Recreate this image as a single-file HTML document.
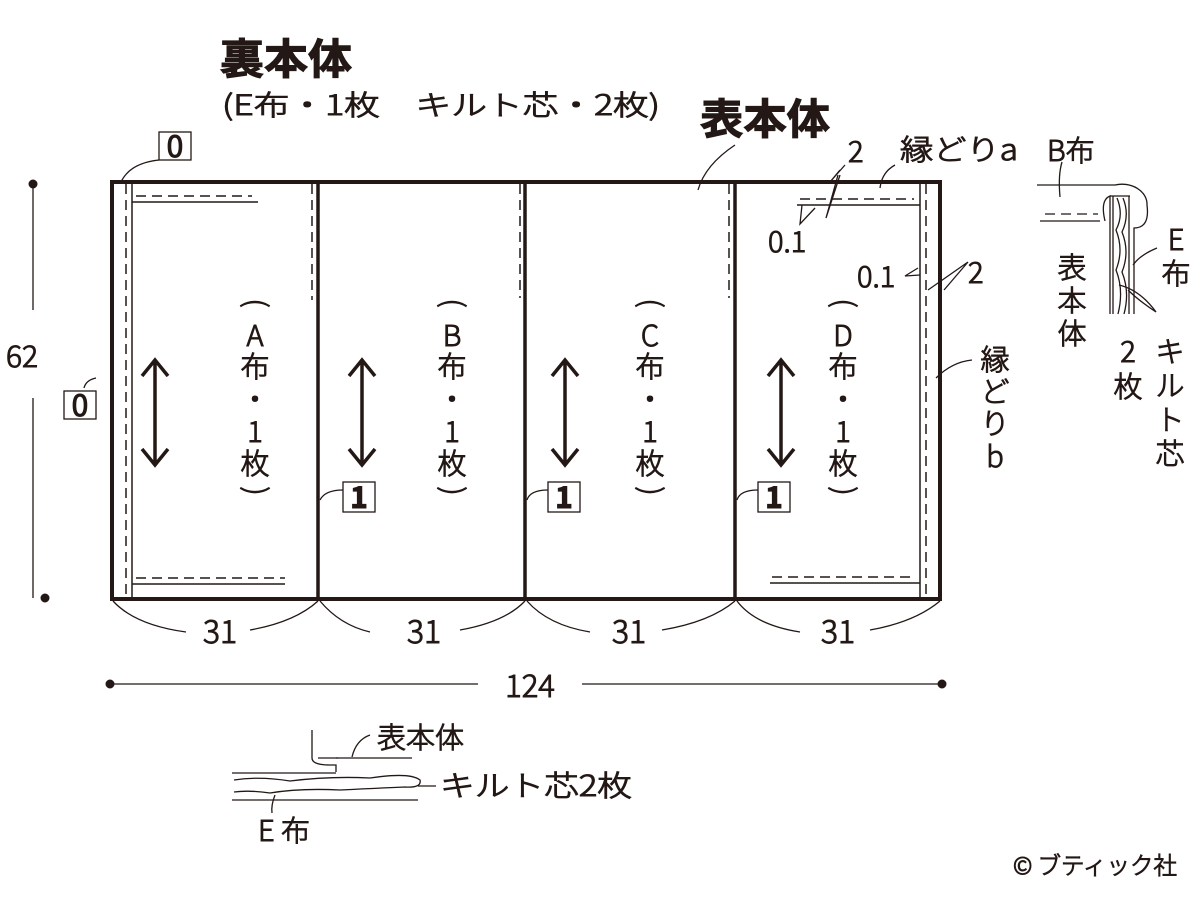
<!DOCTYPE html>
<html><head><meta charset="utf-8"><style>
html,body{margin:0;padding:0;background:#fff;}
svg{display:block;}
text{font-family:"Noto Sans CJK JP","DejaVu Sans",sans-serif;fill:#231815;font-weight:300;}
</style></head><body>
<svg width="1200" height="900" viewBox="0 0 1200 900" xmlns="http://www.w3.org/2000/svg">
<g stroke="#231815" fill="none">
<rect x="112" y="182" width="828" height="417" stroke-width="4"/>
<line x1="318" y1="182" x2="318" y2="599" stroke-width="3.5"/>
<line x1="525" y1="182" x2="525" y2="599" stroke-width="3.5"/>
<line x1="735" y1="182" x2="735" y2="599" stroke-width="3.5"/>
<line x1="126" y1="184" x2="126" y2="598" stroke-width="1.5" stroke-dasharray="10,6"/>
<line x1="132" y1="184" x2="132" y2="598" stroke-width="1.5"/>
<line x1="136" y1="196" x2="252" y2="196" stroke-width="1.5" stroke-dasharray="10,6"/>
<line x1="132" y1="202" x2="258" y2="202" stroke-width="1.5"/>
<line x1="136" y1="578" x2="285" y2="578" stroke-width="1.5" stroke-dasharray="10,6"/>
<line x1="132" y1="584" x2="285" y2="584" stroke-width="1.5"/>
<line x1="926" y1="184" x2="926" y2="598" stroke-width="1.5" stroke-dasharray="10,6"/>
<line x1="920" y1="184" x2="920" y2="598" stroke-width="1.5"/>
<line x1="800" y1="199" x2="914" y2="199" stroke-width="1.5" stroke-dasharray="10,6"/>
<line x1="797" y1="205" x2="920" y2="205" stroke-width="1.5"/>
<line x1="772" y1="577" x2="914" y2="577" stroke-width="1.5" stroke-dasharray="10,6"/>
<line x1="770" y1="583" x2="920" y2="583" stroke-width="1.5"/>
<line x1="312" y1="184" x2="312" y2="300" stroke-width="1.5" stroke-dasharray="10,6"/>
<line x1="520" y1="184" x2="520" y2="298" stroke-width="1.5" stroke-dasharray="10,6"/>
<line x1="729" y1="184" x2="729" y2="298" stroke-width="1.5" stroke-dasharray="10,6"/>
<g stroke-width="3.5">
<path d="M155 360 V465 M142 376 L155 360 L168 376 M142 449 L155 465 L168 449"/>
<path d="M362 360 V465 M349 376 L362 360 L375 376 M349 449 L362 465 L375 449"/>
<path d="M565 360 V465 M552 376 L565 360 L578 376 M552 449 L565 465 L578 449"/>
<path d="M781 360 V465 M768 376 L781 360 L794 376 M768 449 L781 465 L794 449"/>
</g>
<g stroke-width="1.3">
<rect x="159" y="132" width="32" height="28"/>
<rect x="64" y="391" width="32" height="28"/>
<rect x="343" y="482" width="32" height="30"/>
<rect x="548" y="482" width="32" height="30"/>
<rect x="758" y="482" width="32" height="30"/>
<path d="M159 160 Q130 163 121 182"/>
<path d="M96 378 Q86 380 84 388"/>
<path d="M343 490 Q325 490 320 500"/>
<path d="M548 490 Q530 490 527 500"/>
<path d="M758 490 Q740 490 737 500"/>
<path d="M735 145 Q705 165 698 190"/>
<path d="M840 170 L830 182 L845 165 M838 175 L826 218 L840 175"/>
<path d="M802 205 L800 224 L815 208"/>
<path d="M895 165 Q882 172 880 188"/>
<path d="M918 268 L905 276 L920 275"/>
<path d="M968 262 L928 290 M968 262 L944 290"/>
<path d="M972 360 Q952 362 936 378"/>
<line x1="33" y1="184" x2="33" y2="310"/>
<line x1="33" y1="398" x2="33" y2="598"/>
<line x1="110" y1="684" x2="478" y2="684"/>
<line x1="582" y1="684" x2="942" y2="684"/>
<path d="M113 601 Q135 625 186 632"/><path d="M250 630 Q295 622 318 601"/>
<path d="M320 601 Q340 625 370 632"/><path d="M460 630 Q505 622 525 601"/>
<path d="M527 601 Q548 625 590 632"/><path d="M662 630 Q710 622 735 601"/>
<path d="M737 601 Q755 625 800 632"/><path d="M870 630 Q915 622 940 601"/>
<path d="M1037 185 H1115 A 25 20 0 0 1 1147 205 Q1150 228 1134 228 L1134 314"/>
<path d="M1040 221 H1100"/>
<path d="M1045 214 H1098" stroke-dasharray="10,6"/>
<path d="M1105 221 Q1100 200 1110 196 L1110 314"/>
<path d="M1113 196 V314 M1129 196 V314 M1110 196 H1130"/>
<path d="M1117 198 Q1124 215 1116 230 Q1124 250 1116 270 Q1124 290 1118 314"/>
<path d="M1123 198 Q1130 215 1122 232 Q1130 252 1122 272 Q1130 292 1124 314"/>
<path d="M1062 162 Q1058 175 1060 197"/>
<path d="M1157 248 Q1140 255 1133 265"/>
<path d="M1119 285 Q1140 290 1156 312 Q1138 300 1128 290"/>
<path d="M312 730 V758 Q312 765 330 765 H336 V772"/>
<path d="M336 758 H412"/>
<path d="M318 758 H338"/>
<path d="M352 757 Q356 740 370 735"/>
<path d="M232 773 H336"/>
<path d="M232 800 H418"/>
<path d="M234 780 Q260 776 290 781 Q330 776 370 778 Q410 772 420 780 Q422 788 405 787 Q380 788 340 790 Q300 788 270 793 Q250 790 234 792"/>
<path d="M418 786 H436"/>
<path d="M275 795 Q271 805 272 813"/>
</g>
<g fill="#231815">
<circle cx="33" cy="184" r="4"/><circle cx="45" cy="598" r="4"/>
<circle cx="110" cy="684" r="4"/><circle cx="942" cy="684" r="4"/>
</g>
<text x="220" y="74" font-size="42" style="font-weight:bold" textLength="132" lengthAdjust="spacingAndGlyphs">裏本体</text>
<text x="222" y="115" font-size="28" textLength="438" lengthAdjust="spacingAndGlyphs">(E布・1枚　キルト芯・2枚)</text>
<text x="700" y="134" font-size="42" style="font-weight:bold" textLength="130" lengthAdjust="spacingAndGlyphs">表本体</text>
<text x="175" y="157" font-size="30" text-anchor="middle" style="font-weight:400">0</text>
<text x="80" y="416" font-size="30" text-anchor="middle" style="font-weight:400">0</text>
<text x="359" y="508" font-size="30" text-anchor="middle" style="font-weight:bold">1</text>
<text x="564" y="508" font-size="30" text-anchor="middle" style="font-weight:bold">1</text>
<text x="774" y="508" font-size="30" text-anchor="middle" style="font-weight:bold">1</text>
<text x="6" y="367" font-size="30">62</text>
<text x="530" y="697" font-size="31" text-anchor="middle">124</text>
<text x="220" y="643" font-size="32" text-anchor="middle">31</text>
<text x="424" y="643" font-size="32" text-anchor="middle">31</text>
<text x="629" y="643" font-size="32" text-anchor="middle">31</text>
<text x="838" y="643" font-size="32" text-anchor="middle">31</text>
<text x="848" y="162" font-size="29">2</text>
<text x="900" y="160" font-size="29" textLength="118" lengthAdjust="spacingAndGlyphs">縁どりa</text>
<text x="768" y="252" font-size="29">0.1</text>
<text x="857" y="287" font-size="29">0.1</text>
<text x="968" y="283" font-size="29">2</text>
<g font-size="29" text-anchor="middle">
<text x="995" y="370">縁</text><text x="995" y="402">ど</text><text x="995" y="434">り</text><text x="995" y="467">b</text>
</g>
<text x="1047" y="161" font-size="29">B布</text>
<g font-size="29" text-anchor="middle">
<text x="1176" y="250">E</text><text x="1176" y="284">布</text>
<text x="1072" y="278">表</text><text x="1072" y="311">本</text><text x="1072" y="344">体</text>
<text x="1128" y="362">2</text><text x="1128" y="397">枚</text>
<text x="1170" y="362">キ</text><text x="1170" y="396">ル</text><text x="1170" y="430">ト</text><text x="1170" y="464">芯</text>
</g>
<text x="377" y="748" font-size="29">表本体</text>
<text x="440" y="796" font-size="29" textLength="192" lengthAdjust="spacingAndGlyphs">キルト芯2枚</text>
<text x="258" y="841" font-size="29">E 布</text>
<text x="1013" y="874" font-size="24" textLength="164" lengthAdjust="spacingAndGlyphs">© ブティック社</text>
<g font-size="29" text-anchor="middle">
<g transform="translate(255,0)">
<text x="0" y="312" transform="rotate(90 0 303)">(</text>
<text x="0" y="346">A</text><text x="0" y="377">布</text><text x="0" y="410">・</text><text x="0" y="442">1</text><text x="0" y="474">枚</text>
<text x="0" y="500" transform="rotate(90 0 491)">)</text>
</g>
<g transform="translate(452,0)">
<text x="0" y="312" transform="rotate(90 0 303)">(</text>
<text x="0" y="346">B</text><text x="0" y="377">布</text><text x="0" y="410">・</text><text x="0" y="442">1</text><text x="0" y="474">枚</text>
<text x="0" y="500" transform="rotate(90 0 491)">)</text>
</g>
<g transform="translate(650,0)">
<text x="0" y="312" transform="rotate(90 0 303)">(</text>
<text x="0" y="346">C</text><text x="0" y="377">布</text><text x="0" y="410">・</text><text x="0" y="442">1</text><text x="0" y="474">枚</text>
<text x="0" y="500" transform="rotate(90 0 491)">)</text>
</g>
<g transform="translate(843,0)">
<text x="0" y="312" transform="rotate(90 0 303)">(</text>
<text x="0" y="346">D</text><text x="0" y="377">布</text><text x="0" y="410">・</text><text x="0" y="442">1</text><text x="0" y="474">枚</text>
<text x="0" y="500" transform="rotate(90 0 491)">)</text>
</g>
</g>
</svg>
</body></html>
